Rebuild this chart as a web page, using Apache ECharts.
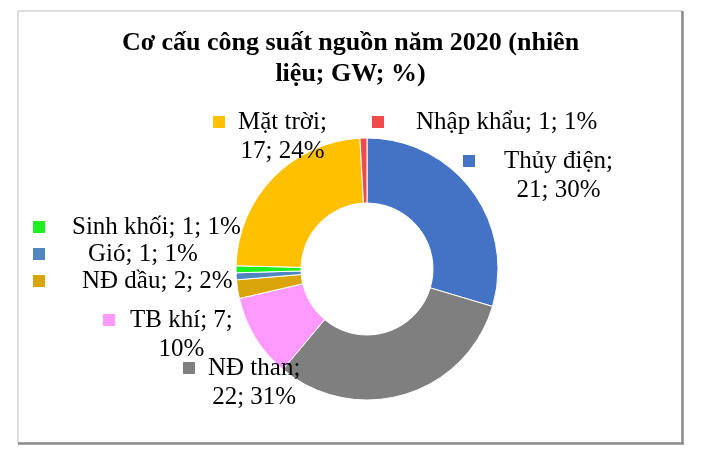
<!DOCTYPE html>
<html>
<head>
<meta charset="utf-8">
<script src="https://cdn.jsdelivr.net/npm/echarts@6/dist/echarts.min.js"></script>
<style>
html,body{margin:0;padding:0;background:#fff}
#chart{width:701px;height:457px}
</style>
</head>
<body>
<div id="chart"></div>
<script>
// nguồn điện, công suất đặt 2020 (GW)
var categories = ['Thủy điện', 'NĐ than', 'TB khí', 'NĐ dầu', 'Gió', 'Sinh khối', 'Mặt trời', 'Nhập khẩu'];
var capacityGW = [20.7, 22.0, 7.2, 1.6, 0.6, 0.6, 16.6, 0.6];
var colorList = ['#4472c4', '#7f7f7f', '#ff99ff', '#d9a50a', '#4f86c0', '#1ef01e', '#ffc000', '#f04b4b'];

// vi tri nhan: [trai o mau, tam dong 1], khoang cach o mau -> chu, so phan tren dong 1 (0 = mot dong)
var labelPos = [[463, 161], [183, 368], [103, 320], [33, 281], [33, 254], [33, 227], [213, 122], [372, 122]];
var keyGap = [29, 13, 15, 37, 43, 27, 13, 32];
var firstLine = [1, 1, 2, 0, 0, 0, 1, 0];

var FONT = "'Liberation Serif', 'Times New Roman', serif";
var LINE_H = 29;

var rich = {
	t: { fontFamily: FONT, fontSize: 25, lineHeight: LINE_H, color: '#000', align: 'center', verticalAlign: 'middle' }
};
for (var i = 0; i < categories.length; i++) {
	rich['k' + i] = { width: 12, height: 12, backgroundColor: colorList[i], align: 'center', verticalAlign: 'middle' };
	rich['g' + i] = { width: keyGap[i], height: 12, align: 'center', verticalAlign: 'middle' };
	rich['s' + i] = { width: 12 + keyGap[i], height: 12, align: 'center', verticalAlign: 'middle' };
}

var pieData = [];
for (var j = 0; j < categories.length; j++) {
	pieData.push({ name: categories[j], value: capacityGW[j], itemStyle: { color: colorList[j] } });
}

var chart = echarts.init(document.getElementById('chart'));
var option = {
	animation: false,
	backgroundColor: '#fff',
	title: {
		text: 'Cơ cấu công suất nguồn năm 2020 (nhiên\nliệu; GW; %)',
		left: 'center',
		top: 23,
		textStyle: {
			fontFamily: FONT,
			fontWeight: 'bold',
			fontSize: 26,
			lineHeight: 31,
			color: '#000'
		}
	},
	graphic: [
		{ type: 'rect', shape: { x: 18, y: 11, width: 664, height: 432 }, style: { fill: 'none', stroke: '#bfbfbf', lineWidth: 1 }, silent: true },
		{ type: 'line', shape: { x1: 682.5, y1: 11, x2: 682.5, y2: 444 }, style: { stroke: '#8c8c8c', lineWidth: 2.5 }, silent: true },
		{ type: 'line', shape: { x1: 18, y1: 443.5, x2: 684, y2: 443.5 }, style: { stroke: '#8c8c8c', lineWidth: 2.5 }, silent: true }
	],
	series: [{
		type: 'pie',
		center: [367, 269],
		radius: [66, 131],
		startAngle: 90,
		clockwise: true,
		avoidLabelOverlap: false,
		itemStyle: { borderColor: '#fff', borderWidth: 1 },
		emphasis: { disabled: true },
		labelLine: { show: false },
		label: {
			show: true,
			position: 'outside',
			lineHeight: LINE_H,
			formatter: function (p) {
				var i = p.dataIndex;
				var parts = [p.name, Math.round(p.value), Math.round(p.percent) + '%'];
				var n = firstLine[i];
				if (n === 0) {
					return '{k' + i + '|}{g' + i + '|}{t|' + parts.join('; ') + '}';
				}
				return '{k' + i + '|}{g' + i + '|}{t|' + parts.slice(0, n).join('; ') + ';}\n' +
					'{s' + i + '|}{t|' + parts.slice(n).join('; ') + '}';
			},
			rich: rich
		},
		labelLayout: function (params) {
			var i = params.dataIndex;
			return {
				x: labelPos[i][0],
				y: labelPos[i][1] - LINE_H / 2,
				align: 'left',
				verticalAlign: 'top'
			};
		},
		data: pieData
	}]
};
chart.setOption(option);
</script>
</body>
</html>
